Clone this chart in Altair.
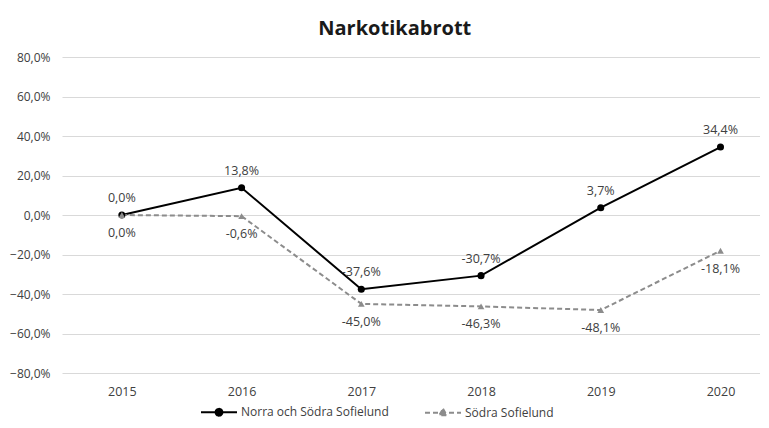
import altair as alt
import pandas as pd

years = [2015, 2016, 2017, 2018, 2019, 2020]
norra = [0.0, 13.8, -37.6, -30.7, 3.7, 34.4]
sodra = [0.0, -0.6, -45.0, -46.3, -48.1, -18.1]
series_names = ["Norra och Södra Sofielund", "Södra Sofielund"]
y_ticks = [-80, -60, -40, -20, 0, 20, 40, 60, 80]

FONT = "Open Sans"
GRAY = "#8c8c8c"

def fmt(v):
    return f"{v:.1f}".replace(".", ",") + "%"

rows = []
for name, vals in zip(series_names, [norra, sodra]):
    for yr, v in zip(years, vals):
        rows.append({"year": yr, "value": v, "series": name, "label": fmt(v)})
df = pd.DataFrame(rows)

x = alt.X("year:Q", scale=alt.Scale(domain=[2014.5, 2020.33], nice=False, zero=False),
          axis=alt.Axis(values=years, format="d", title=None, grid=False, domain=False,
                        ticks=False, labelPadding=12, labelFontSize=12.5,
                        labelColor="#404040", labelFont=FONT))
y = alt.Y("value:Q", scale=alt.Scale(domain=[-80, 80], nice=False, zero=False),
          axis=alt.Axis(values=y_ticks, title=None, domain=False, ticks=False,
                        labelPadding=12, labelFontSize=12, labelColor="#404040",
                        labelFont=FONT, gridColor="#d9d9d9", gridWidth=1.2,
                        labelExpr="replace(format(datum.value, '.1f'), '.', ',') + '%'"))

base = alt.Chart(df)
n = base.transform_filter(alt.datum.series == series_names[0])
s = base.transform_filter(alt.datum.series == series_names[1])

line_n = n.mark_line(color="black", strokeWidth=2).encode(x=x, y=y)
line_s = s.mark_line(color=GRAY, strokeWidth=2, strokeDash=[5, 3]).encode(x=x, y=y)
pt_n = n.mark_point(shape="circle", filled=True, color="black", opacity=1, size=50).encode(x=x, y=y)
pt_s = s.mark_point(shape="triangle-up", filled=True, color=GRAY, opacity=1, size=45).encode(x=x, y=y)
txt_n = n.mark_text(dy=-17, fontSize=12.5, color="#404040", font=FONT).encode(x=x, y=y, text="label:N")
txt_s = s.mark_text(dy=18, fontSize=12.5, color="#404040", font=FONT).encode(x=x, y=y, text="label:N")

circle_path = "M-1,0H1M-0.19,0A0.19,0.19 0 1,1 0.19,0A0.19,0.19 0 1,1 -0.19,0Z"
tri_path = "M-1,0H1M0,-0.21L0.21,0.15L-0.21,0.15Z"

leg = alt.Legend(orient="none", legendX=138, legendY=336, direction="horizontal",
                 title=None, symbolSize=1296, labelFontSize=12, labelColor="#404040",
                 labelFont=FONT, columnPadding=32, labelOffset=3, symbolStrokeWidth=2)
legend_layer = base.transform_filter("false").mark_point(filled=True, opacity=1, strokeWidth=2).encode(
    color=alt.Color("series:N", scale=alt.Scale(domain=series_names, range=["black", GRAY]), legend=leg),
    stroke=alt.Stroke("series:N", scale=alt.Scale(domain=series_names, range=["black", GRAY]), legend=leg),
    shape=alt.Shape("series:N", scale=alt.Scale(domain=series_names, range=[circle_path, tri_path]), legend=leg),
    strokeDash=alt.StrokeDash("series:N", scale=alt.Scale(domain=series_names, range=[[1, 0], [5, 3]]), legend=leg),
)

chart = alt.layer(line_n, line_s, pt_n, pt_s, txt_n, txt_s, legend_layer).properties(
    width=698, height=316,
    title=alt.Title("Narkotikabrott", fontSize=20, fontWeight="bold", font=FONT,
                    color="#1a1a1a", anchor="middle", frame="bounds", offset=12, dx=10),
    autosize=alt.AutoSizeParams(type="none"),
    padding={"left": 54, "top": 49, "right": 0, "bottom": 50},
).configure_view(stroke=None)

chart.save("out.html", embed_options={"renderer": "svg", "actions": False})
